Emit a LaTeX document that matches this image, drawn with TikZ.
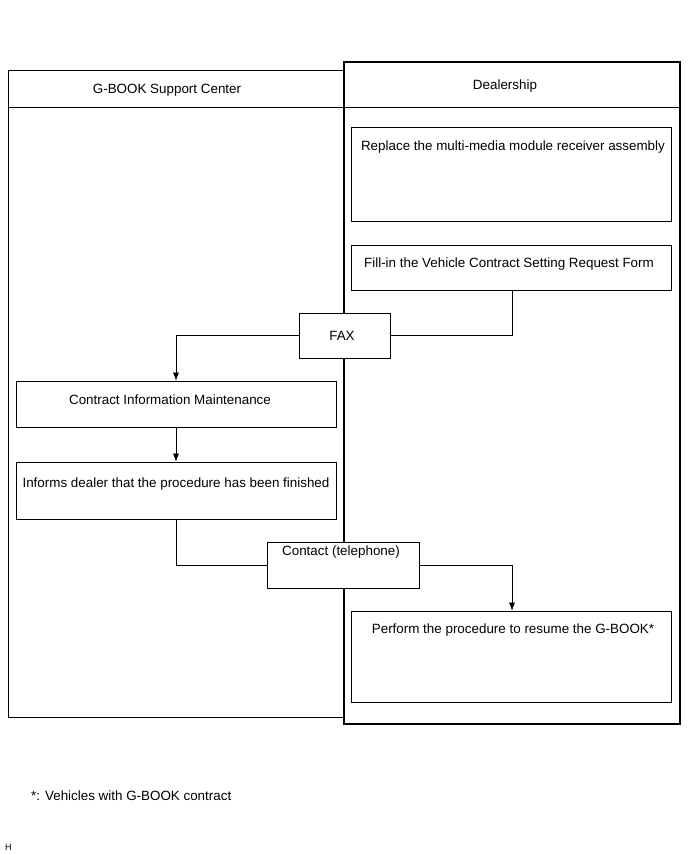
\documentclass[tikz,border=0pt]{standalone}
\usepackage{fontspec}
\setmainfont{Liberation Sans}
\usetikzlibrary{arrows.meta}
\begin{document}
\begin{tikzpicture}[x=1pt,y=-1pt,
  lane/.style={draw=black,line width=0.7pt,fill=none},
  stepbox/.style={draw=black,line width=0.7pt,fill=white,rectangle,inner sep=0pt},
  lbl/.style={font=\fontsize{13.4}{15}\selectfont,inner sep=0pt,anchor=center},
  conn/.style={draw=black,line width=0.6pt},
  arr/.style={conn,-{Latex[length=8pt,width=6pt]}}]
\useasboundingbox (0,0) rectangle (691,855);
% lanes
\draw[lane] (8,70) rectangle (344,717);
\draw[lane] (8,107) -- (680,107);
\draw[draw=black,line width=1.8pt] (344,62) rectangle (680,724);
\node[lbl] (hsc) at (167,90) {G-BOOK Support Center};
\node[lbl] (hdl) at (505,86) {Dealership};
% boxes
\node[stepbox,minimum width=320pt,minimum height=94pt] (rep) at (511,174) {};
\node[lbl] (reptxt) at (513,147.5) {Replace the multi-media module receiver assembly};
\node[stepbox,minimum width=320pt,minimum height=45pt] (fill) at (511,267.5) {};
\node[lbl] (filltxt) at (509,264.5) {Fill-in the Vehicle Contract Setting Request Form};
\node[stepbox,minimum width=320pt,minimum height=46pt] (con) at (176,404) {};
\node[lbl] (contxt) at (170,399.5) {Contract Information Maintenance};
\node[stepbox,minimum width=320pt,minimum height=57pt] (inf) at (176,490.5) {};
\node[lbl] (inftxt) at (176,484.5) {Informs dealer that the procedure has been finished};
\node[stepbox,minimum width=320pt,minimum height=91pt] (per) at (511,656.5) {};
\node[lbl] (pertxt) at (513,630.5) {Perform the procedure to resume the G-BOOK*};
\node[stepbox,minimum width=91pt,minimum height=45pt] (fax) at (344.5,335.5) {};
\node[lbl] (faxtxt) at (342,335.5) {FAX};
\node[stepbox,minimum width=152pt,minimum height=46pt] (tel) at (343,565) {};
\node[lbl] (teltxt) at (341,552.5) {Contact (telephone)};
% connectors
\draw[conn] (fill.south -| 512,0) |- (fax.east);
\draw[arr] (fax.west) -| (con.north);
\draw[arr] (con.south) -- (inf.north);
\draw[conn] (inf.south) |- (tel.west);
\draw[arr] (tel.east) -| (per.north -| 512,0);
% notes
\node[lbl,anchor=west] (note) at (31,796) {*: Vehicles with G-BOOK contract};
\node[font=\fontsize{9}{10}\selectfont,inner sep=0pt,anchor=west] (hmark) at (5,847) {H};
\end{tikzpicture}
\end{document}
